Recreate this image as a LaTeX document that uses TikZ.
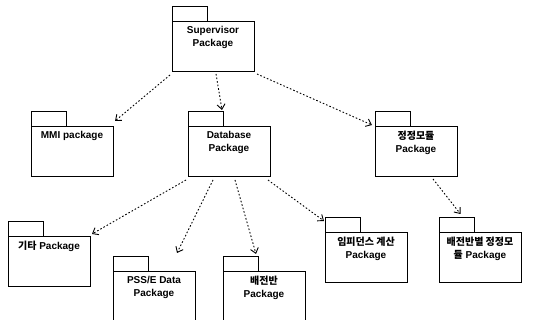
\documentclass[tikz,border=0pt]{standalone}
\usepackage{fontspec}
\setmainfont{Liberation Sans}
\newfontfamily\krfont{Noto Sans CJK KR}
\usetikzlibrary{positioning}
\usetikzlibrary{arrows.meta}

\tikzset{
  pkg/.style={draw, line width=1pt, minimum width=82pt, minimum height=50pt,
    inner sep=0pt, outer sep=0pt, anchor=north west},
  pkgtab/.style={draw, line width=1pt, minimum width=35pt, minimum height=15pt,
    inner sep=0pt, outer sep=0pt, anchor=south west},
  pkgtext/.style={align=center, inner sep=1pt,
    font=\fontsize{10}{13}\selectfont\bfseries},
  dep/.style={-{Straight Barb[length=5pt,width=8pt]}, line width=0.9pt,
    dash pattern=on 1.6pt off 2pt},
}

\begin{document}
\begin{tikzpicture}[x=1pt,y=-1pt]
  \useasboundingbox (0,0) rectangle (536,320);
  \clip (0,0) rectangle (536,320);

  % package bodies with their tabs and names
  \foreach \name/\x/\y/\txt in {
      sup/172/22/{Supervisor\\Package},
      mmi/31/127/{MMI package},
      db/188/127/{Database\\Package},
      mod/375/127/{{\krfont 정정모듈}\\Package},
      etc/8/237/{{\krfont 기타} Package},
      pss/113/272/{PSS/E Data\\Package},
      dist/223/272/{{\krfont 배전반}\\Package},
      imp/325/233/{{\krfont 임피던스 계산}\\Package},
      dmod/439/233/{{\krfont 배전반별 정정모}\\{\krfont 듈} Package}}
  {
    \node[pkg] (\name) at (\x,\y) {};
    \node[pkgtab] (\name-tab) at (\name.north west) {};
    \node[pkgtext, below=3pt of \name.north] (\name-label) {\txt};
  }

  % dependencies
  \draw[dep] ([shift={(-2,3)}]sup.south west) -- ([shift={(2,-6)}]mmi.north east);
  \draw[dep] ([shift={(3,2)}]sup.south) -- ([shift={(-1,-2)}]db-tab.north east);
  \draw[dep] ([shift={(3,2)}]sup.south east) -- ([shift={(-3,-2)}]mod.north west);

  \draw[dep] ([shift={(-2,3)}]db.south west) -- ([shift={(2,-3)}]etc.north east);
  \draw[dep] ([shift={(-16,3)}]db.south) -- ([shift={(-18,-19)}]pss.north east);
  \draw[dep] ([shift={(6,3)}]db.south) -- ([shift={(-2,-3)}]dist-tab.north east);
  \draw[dep] ([shift={(-2,3)}]db.south east) -- ([shift={(-1,3)}]imp-tab.north west);

  \draw[dep] ([shift={(17,2)}]mod.south) -- ([shift={(4,-4)}]dmod-tab.north);
\end{tikzpicture}
\end{document}
